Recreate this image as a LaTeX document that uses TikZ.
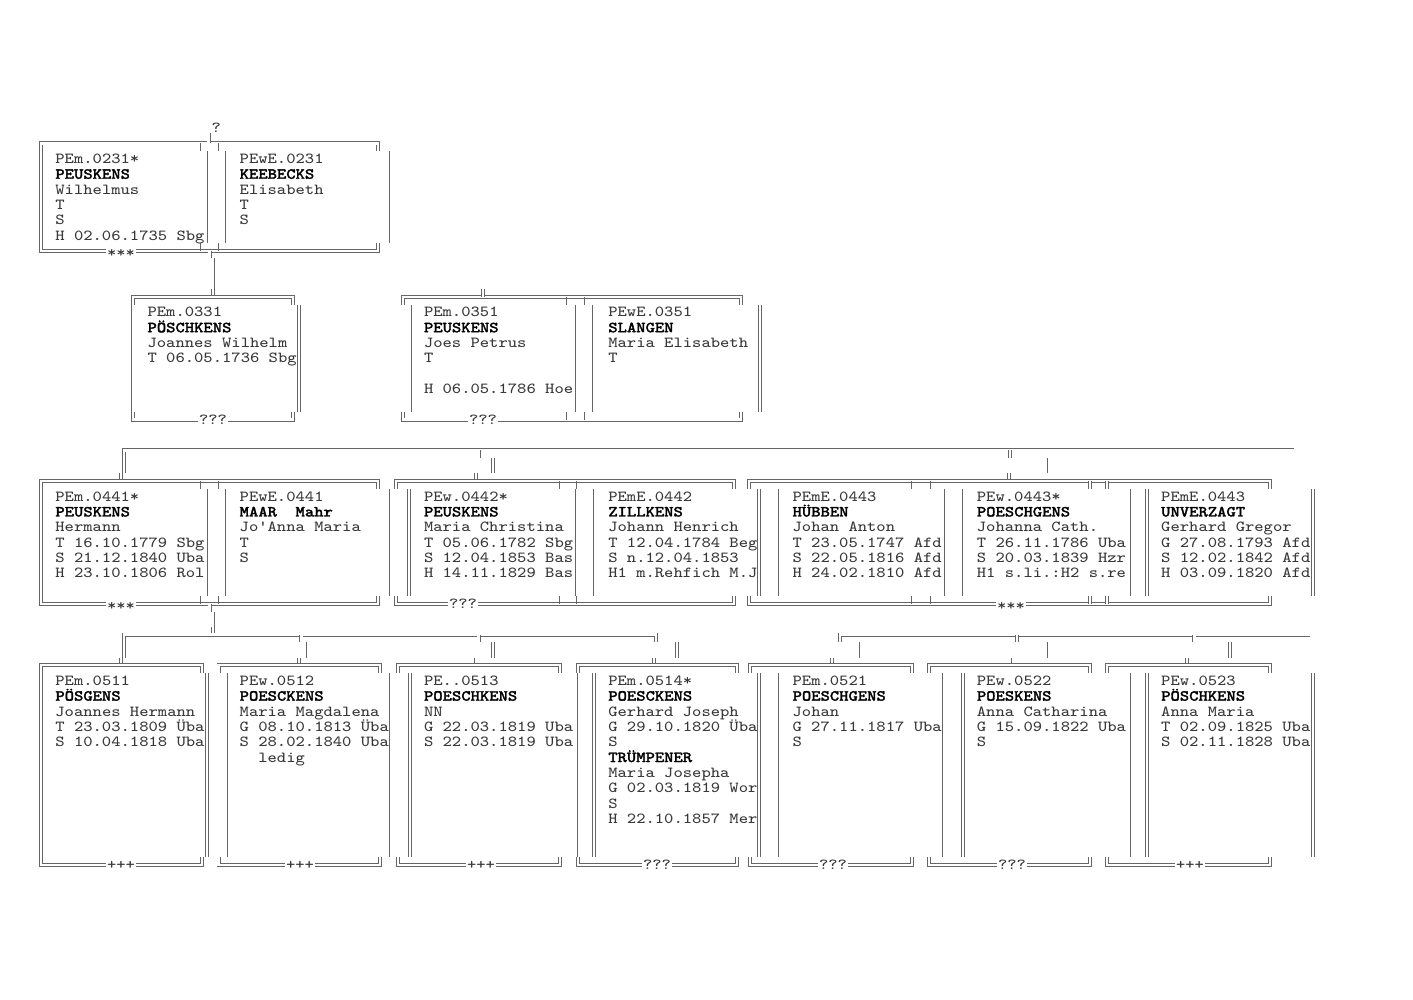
\documentclass[tikz,border=0pt]{standalone}
\usepackage{fontspec}
\newfontfamily\mono[FakeStretch=1.143]{Latin Modern Mono}
\newfontfamily\monob[FakeStretch=1.143,FakeBold=2]{Latin Modern Mono}
\definecolor{lc}{gray}{0.4}
\definecolor{txt}{gray}{0.22}
\newcommand\ptfont{\mono\fontsize{7.68pt}{7.675pt}\selectfont}
\newcommand\nm[1]{{\monob\color{black}#1}}
% double-line frame: top and bottom rules with short corner stubs
\newcommand\famframe[4]{%
  \draw[dbl] ({#1},{#3+7.675}) -- ({#1},{#3}) -- ({#2},{#3}) -- ({#2},{#3+7.675});
  \draw[dbl] ({#1},{#4-7.675}) -- ({#1},{#4}) -- ({#2},{#4}) -- ({#2},{#4-7.675});}
% vertical side between the top and bottom rules
\newcommand\famside[4][dbl]{\draw[#1] ({#2},{#3+7.675}) -- ({#2},{#4-7.675});}
% small stubs hanging from the top rule and rising from the bottom rule
\newcommand\famstub[4][sgl]{%
  \draw[#1] ({#2},{#3}) -- ({#2},{#3+7.675});
  \draw[#1] ({#2},{#4-7.675}) -- ({#2},{#4});}
% one person: anchor coordinate plus one text line per row
\newcommand\person[4]{%
  \coordinate (#1) at (#2,#3);
  \foreach \t [count=\i from 0] in {#4} {\node[ptxt] (#1-\i) at (#2,{#3+15.35*\i}) {\t};}}
\begin{document}
\begin{tikzpicture}[x=0.5pt,y=-0.5pt,
  dbl/.style={draw=lc, line width=0.4pt, double=white, double distance=1.2pt},
  sgl/.style={draw=lc, line width=0.45pt},
  ptxt/.style={anchor=base west, inner sep=0pt, font=\ptfont, text=txt},
  lbl/.style={anchor=base, fill=white, inner xsep=0.3pt, inner ysep=1pt, font=\ptfont, text=txt}]
\useasboundingbox[fill=white] (0,0) rectangle (1413,1000);

% ---------------- generation 1 ----------------
\famframe{41.18}{378}{143.35}{250.8}
\famside{41.18}{143.35}{250.8}
\famside{391.3}{143.35}{250.8}
\famstub{200.7}{143.35}{250.8}
\famstub{218.5}{143.35}{250.8}
\famside[sgl]{207}{143.35}{250.8}
\famside[sgl]{225.2}{143.35}{250.8}
\node[lbl] (A-lab) at (121,257.8) {***};
\node[lbl,fill=none] (A-q) at (216.3,132.7) {?};
\coordinate (A-up) at (208.5,143.35);
\draw[dbl] (A-up) -- ++(0,-10);
\person{p0231m}{55.0}{163.4}{PEm.0231*,\nm{PEUSKENS},Wilhelmus,T,S,H 02.06.1735 Sbg}
\person{p0231w}{239.3}{163.4}{PEwE.0231,\nm{KEEBECKS},Elisabeth,T,S}

% link generation 1 -> 2
\coordinate (A-dn) at (209.6,250.8);
\coordinate (B-up) at (212.9,296.85);
\draw[dbl] (A-dn) -- ++(0,7.675);
\draw[dbl] (216.3,258.5) -- (216.3,289.2);
\draw[dbl] (B-up) -- ++(0,-7.675);

% ---------------- generation 2 ----------------
\famframe{133.1}{292.7}{296.85}{419.65}
\famside{133.3}{296.85}{419.65}
\famside{299}{296.85}{419.65}
\node[lbl] (B-lab) at (213,424.35) {???};
\person{p0331}{147.15}{316.9}{PEm.0331,\nm{PÖSCHKENS},Joannes Wilhelm,T 06.05.1736 Sbg}

\famframe{402.9}{741}{296.85}{419.65}
\famside{409.5}{296.85}{419.65}
\famside{760}{296.85}{419.65}
\famstub{566}{296.85}{419.65}
\famstub{584}{296.85}{419.65}
\famside[sgl]{575}{296.85}{419.65}
\famside[sgl]{592.5}{296.85}{419.65}
\coordinate (C-up) at (482.9,296.85);
\draw[dbl] (C-up) -- ++(0,-7.675);
\node[lbl] (C-lab) at (483,424.35) {???};
\person{p0351m}{423.6}{316.9}{PEm.0351,\nm{PEUSKENS},Joes Petrus,T,{},H 06.05.1786 Hoe}
\person{p0351w}{607.9}{316.9}{PEwE.0351,\nm{SLANGEN},Maria Elisabeth,T}

% ---------------- sibling line of generation 3 ----------------
\coordinate (D-up) at (121,481.05);
\coordinate (E-up) at (476,481.05);
\coordinate (F-up) at (1009,481.05);
\draw[dbl] (1294,450.35) -- (124,450.35) -- (124,473.4);
\draw[dbl] (D-up) -- ++(0,-7.675);
\draw[dbl] (478.6,450.35) -- ++(0,7.675);
\draw[dbl] (1010,450.35) -- ++(0,7.675);
\draw[dbl] (492.7,458) -- (492.7,473.4);
\draw[dbl] (1045.6,458) -- (1045.6,473.4);
\draw[dbl] (E-up) -- ++(0,-7.675);
\draw[dbl] (F-up) -- ++(0,-7.675);

% ---------------- generation 3 ----------------
\famframe{41.18}{378}{481.05}{603.85}
\famside{41.18}{481.05}{603.85}
\famside{391.3}{481.05}{603.85}
\famstub{200.7}{481.05}{603.85}
\famstub{218.5}{481.05}{603.85}
\famside[sgl]{207}{481.05}{603.85}
\famside[sgl]{225.2}{481.05}{603.85}
\node[lbl] (D-lab) at (121,610.85) {***};
\person{p0441m}{55.0}{501.1}{PEm.0441*,\nm{PEUSKENS},Hermann,T 16.10.1779 Sbg,S 21.12.1840 Uba,H 23.10.1806 Rol}
\person{p0441w}{239.3}{501.1}{PEwE.0441,\nm{MAAR\ \ Mahr},Jo'Anna Maria,T,S}

\famframe{396}{734}{481.05}{603.85}
\famside{409}{481.05}{603.85}
\famside{759}{481.05}{603.85}
\famstub{559}{481.05}{603.85}
\famstub{576}{481.05}{603.85}
\famside[sgl]{575}{481.05}{603.85}
\famside[sgl]{593}{481.05}{603.85}
\node[lbl] (E-lab) at (463,608.55) {???};
\person{p0442w}{423.6}{501.1}{PEw.0442*,\nm{PEUSKENS},Maria Christina,T 05.06.1782 Sbg,S 12.04.1853 Bas,H 14.11.1829 Bas}
\person{p0442m}{607.9}{501.1}{PEmE.0442,\nm{ZILLKENS},Johann Henrich,T 12.04.1784 Beg,S n.12.04.1853,H1 m.Rehfich M.J}

\famframe{749}{1270}{481.05}{603.85}
\famside{776.5}{481.05}{603.85}
\famside{1313}{481.05}{603.85}
\famstub{911}{481.05}{603.85}
\famstub{930}{481.05}{603.85}
\famside[sgl]{944.3}{481.05}{603.85}
\famside[sgl]{962.7}{481.05}{603.85}
\famstub[dbl]{1090}{481.05}{603.85}
\famstub[dbl]{1107}{481.05}{603.85}
\famside{1128.5}{481.05}{603.85}
\famside{1147}{481.05}{603.85}
\node[lbl] (F-lab) at (1011,610.85) {***};
\person{p0443a}{792.2}{501.1}{PEmE.0443,\nm{HÜBBEN},Johan Anton,T 23.05.1747 Afd,S 22.05.1816 Afd,H 24.02.1810 Afd}
\person{p0443w}{976.5}{501.1}{PEw.0443*,\nm{POESCHGENS},Johanna Cath.,T 26.11.1786 Uba,S 20.03.1839 Hzr,H1 s.li.:H2 s.re}
\person{p0443b}{1160.8}{501.1}{PEmE.0443,\nm{UNVERZAGT},Gerhard Gregor,G 27.08.1793 Afd,S 12.02.1842 Afd,H 03.09.1820 Afd}

% ---------------- sibling lines of generation 4 ----------------
\coordinate (D-dn) at (209.6,603.85);
\draw[dbl] (D-dn) -- ++(0,7.675);
\draw[dbl] (216.3,611.5) -- (216.3,626.9);
\draw[dbl] (212.7,626.9) -- (212.7,634.55);
\draw[dbl] (124,657.6) -- (124,634.55) -- (656,634.55) -- (656,642.2);
\draw[dbl] (301.3,634.55) -- ++(0,7.675);
\draw[dbl] (478.6,634.55) -- ++(0,7.675);
\foreach \x in {308.4,492.7,677} \draw[dbl] (\x,642.2) -- (\x,657.6);
\draw[dbl] (839.8,642.2) -- (839.8,634.55) -- (1309.6,634.55);
\draw[dbl] (1017.1,634.55) -- ++(0,7.675);
\draw[dbl] (1194.4,634.55) -- ++(0,7.675);
\foreach \x in {861.3,1045.6,1229.9} \draw[dbl] (\x,642.2) -- (\x,657.6);
\foreach \n/\x in {G/121,H/298.7,I/476.4,J/654.1,K/831.8,L/1009.5,M/1187.2} {
  \coordinate (\n-up) at (\x,665.25);
  \draw[dbl] (\n-up) -- ++(0,-7.675);
}

% ---------------- generation 4 ----------------
\foreach \xl/\xr/\sl/\sr in {41.18/202/41.2/207, 218.5/380/225.5/391.3, 398/560/409.8/575.6,
    578/737/594/759, 750/912/776.5/944.3, 929/1090/962.7/1128.5, 1107/1270/1147/1312.8} {
  \famframe{\xl}{\xr}{665.25}{864.8}
  \famside{\sl}{665.25}{864.8}
  \famside{\sr}{665.25}{864.8}
}
\foreach \n/\x/\t in {G/121/+++,H/300/+++,I/481/+++,J/657/???,K/833/???,L/1012/???,M/1190/+++}
  \node[lbl] (\n-lab) at (\x,869.5) {\t};

\person{p0511}{55.0}{685.3}{PEm.0511,\nm{PÖSGENS},Joannes Hermann,T 23.03.1809 Üba,S 10.04.1818 Uba}
\person{p0512}{239.3}{685.3}{PEw.0512,\nm{POESCKENS},Maria Magdalena,G 08.10.1813 Üba,S 28.02.1840 Uba,\ \ ledig}
\person{p0513}{423.6}{685.3}{PE..0513,\nm{POESCHKENS},NN,G 22.03.1819 Uba,S 22.03.1819 Uba}
\person{p0514}{607.9}{685.3}{PEm.0514*,\nm{POESCKENS},Gerhard Joseph,G 29.10.1820 Üba,S,\nm{TRÜMPENER},Maria Josepha,G 02.03.1819 Wor,S,H 22.10.1857 Mer}
\person{p0521}{792.2}{685.3}{PEm.0521,\nm{POESCHGENS},Johan,G 27.11.1817 Uba,S}
\person{p0522}{976.5}{685.3}{PEw.0522,\nm{POESKENS},Anna Catharina,G 15.09.1822 Uba,S}
\person{p0523}{1160.8}{685.3}{PEw.0523,\nm{PÖSCHKENS},Anna Maria,T 02.09.1825 Uba,S 02.11.1828 Uba}
\end{tikzpicture}
\end{document}
